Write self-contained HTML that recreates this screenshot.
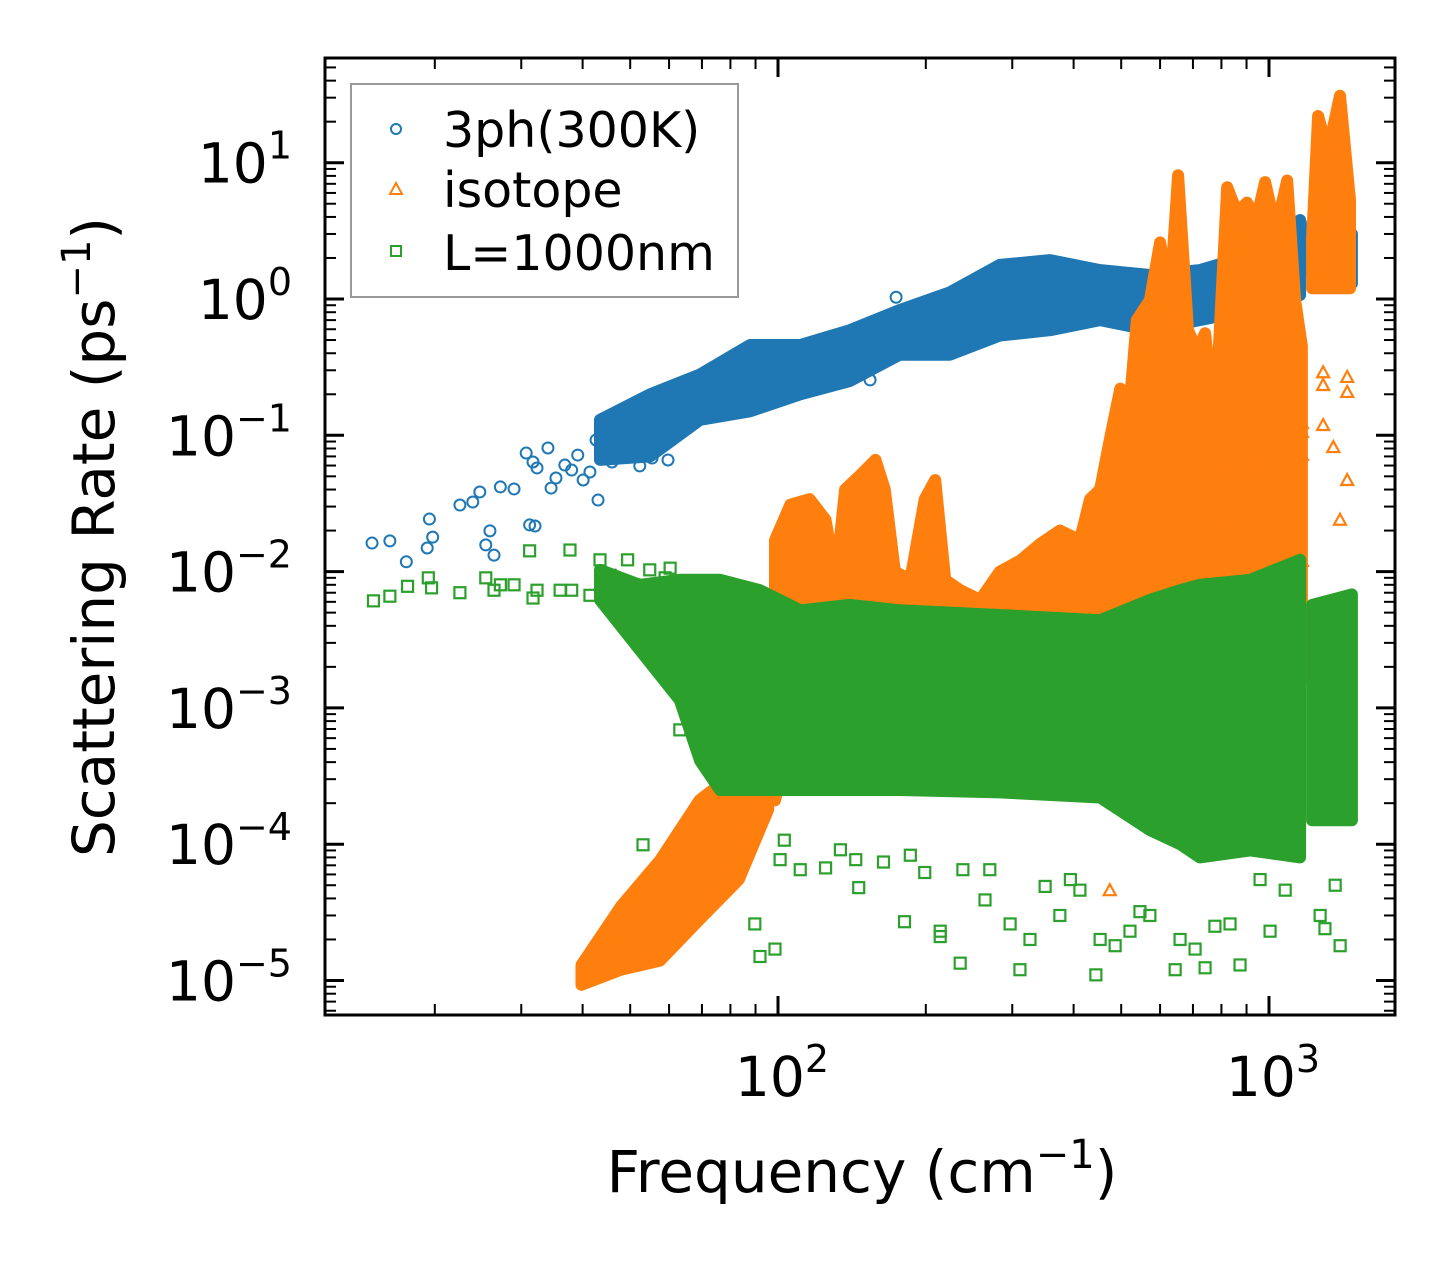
<!DOCTYPE html>
<html><head><meta charset="utf-8"><style>
html,body{margin:0;padding:0;background:#fff;}
svg text{font-family:"DejaVu Sans","Liberation Sans",sans-serif;fill:#000;}
</style></head><body>
<svg id="chart" width="1455" height="1265" viewBox="0 0 1455 1265" xmlns="http://www.w3.org/2000/svg">
<rect width="1455" height="1265" fill="#fff"/>
<g id="marks"></g>
<g id="axes"></g>
<g id="legend">
 <rect x="351" y="84" width="387" height="213" fill="#fff" stroke="#999" stroke-width="2"/>
 <circle cx="396" cy="129" r="5" fill="none" stroke="#1f77b4" stroke-width="2"/>
 <text x="443" y="147" font-size="49">3ph(300K)</text>
 <polygon points="396,183 402,194 390,194" fill="none" stroke="#ff7f0e" stroke-width="2"/>
 <text x="443" y="207" font-size="49">isotope</text>
 <rect x="391" y="246" width="10" height="10" fill="none" stroke="#2ca02c" stroke-width="2"/>
 <text x="443" y="270" font-size="49">L=1000nm</text>
</g>
<text x="862" y="1192" font-size="58" text-anchor="middle">Frequency (cm<tspan dy="-24" font-size="40">−1</tspan><tspan dy="24">)</tspan></text>
<text transform="translate(114,537) rotate(-90)" font-size="58" text-anchor="middle">Scattering Rate (ps<tspan dy="-24" font-size="40">−1</tspan><tspan dy="24">)</tspan></text>
</svg>
<script>
// ---- data (frequency in cm^-1, rate in ps^-1) ----
const phF  = [14.9,16.2,17.5,19.5,19.8,19.3,22.5,23.9,24.7,25.4,25.9,26.4,27.2,29.0,30.7,31.2,32.0,31.7,32.3,34.0,34.5,35.3,36.8,38.0,39.1,40.1,41.4,42.6,43.0,44.4,45.9,47.7,48.5,49.4,52.3,55.4,59.7,63.1,154,174];
const phR  = [0.0162,0.0168,0.0118,0.0243,0.0179,0.0149,0.0308,0.0324,0.0384,0.0157,0.0199,0.0132,0.0418,0.0404,0.0741,0.022,0.0216,0.0637,0.0576,0.0807,0.041,0.0486,0.0605,0.0556,0.0716,0.047,0.0538,0.0924,0.0335,0.085,0.0637,0.0893,0.134,0.0972,0.0596,0.0681,0.0659,0.119,0.255,1.03];
const phBandF  = [43.4,54.9,69.4,87.7,111,140,177,224,283,358,453,572,723,915,1157];
const phBandHi = [0.13,0.2,0.28,0.46,0.46,0.59,0.83,1.12,1.78,1.93,1.63,1.5,1.63,2.1,3.8];
const phBandLo = [0.066,0.07,0.13,0.15,0.2,0.25,0.39,0.39,0.54,0.59,0.7,0.59,0.7,0.83,1.07];
const phBand2F  = [1224,1395,1475];
const phBand2Hi = [3.6,3.5,3.0];
const phBand2Lo = [1.45,1.3,1.3];

const isoBandAF  = [39.8,47.9,57.5,69.2,83.2,95.5];
const isoBandAHi = [1.3e-5,3.5e-5,7.6e-5,2.1e-4,3.5e-4,5.8e-4];
const isoBandALo = [9.3e-6,1.2e-5,1.4e-5,2.8e-5,5.5e-5,1.8e-4];
const isoBandBF  = [98.6,106,116,125,131,137,147,158,165,173,186,199,209,219,235,258,283,311,342,375,412,432,453,474,498,521,538,572,600,628,653,684,713,741,776,822,861,902,942,982,1033,1089,1130,1167];
const isoBandBHi = [0.017,0.031,0.034,0.024,0.0087,0.040,0.051,0.066,0.040,0.010,0.0087,0.034,0.047,0.0087,0.0073,0.0062,0.010,0.012,0.016,0.020,0.017,0.034,0.040,0.093,0.22,0.18,0.70,0.98,2.6,0.98,8.1,0.59,0.42,0.56,0.12,6.6,4.3,5.1,3.8,7.2,3.2,7.4,0.98,0.45];
const isoBandBLo = [2.1e-4,6e-4,1.1e-3,1.6e-3,1.6e-3,1.6e-3,1.6e-3,1.6e-3,1.6e-3,1.6e-3,1.6e-3,1.6e-3,1.6e-3,1.6e-3,1.6e-3,1.6e-3,1.6e-3,1.6e-3,1.6e-3,1.6e-3,1.6e-3,1.6e-3,1.6e-3,1.6e-3,1.6e-3,1.6e-3,1.6e-3,1.6e-3,1.6e-3,1.6e-3,1.6e-3,1.6e-3,1.6e-3,1.6e-3,1.6e-3,1.6e-3,1.6e-3,1.6e-3,1.6e-3,1.6e-3,1.6e-3,1.6e-3,1.6e-3,1.6e-3];
const isoBandCF  = [1224,1259,1318,1395,1462];
const isoBandCHi = [2.7,22,12,31,5.3];
const isoBandCLo = [1.2,1.2,1.2,1.2,1.2];
const isoF = [1151,1151,1151,1167,1167,1167,1289,1289,1289,1352,1443,1443,1443,968,968,822,628,622,813,1052,1395,474,1167];
const isoR = [0.32,0.25,0.20,0.123,0.106,0.072,0.29,0.234,0.119,0.082,0.268,0.208,0.047,0.074,0.064,0.063,0.047,0.041,0.024,0.034,0.024,4.6e-5,0.012];

const bdF = [15.0,16.2,17.6,19.4,19.7,22.5,25.4,26.4,27.2,29.0,31.2,31.7,32.3,36.0,37.7,38.0,41.4,43.4,45.5,49.4,54.8,58.9,60.3,
  53.1,63.1,89.7,91.9,98.6,101,103,111,125,134,144,146,164,181,186,199,214,214,235,238,264,270,297,311,326,350,375,394,412,444,453,486,521,546,572,644,659,707,741,776,833,873,959,1005,1079,1271,1300,1364,1396];
const bdR = [0.0061,0.0066,0.0078,0.0090,0.0076,0.0070,0.0090,0.0073,0.0080,0.0080,0.0142,0.0064,0.0073,0.0073,0.0144,0.0073,0.0067,0.0122,0.0094,0.0122,0.0103,0.0090,0.0106,
  9.9e-5,6.9e-4,2.6e-5,1.5e-5,1.7e-5,7.7e-5,1.07e-4,6.5e-5,6.7e-5,9.1e-5,7.7e-5,4.8e-5,7.4e-5,2.7e-5,8.3e-5,6.2e-5,2.3e-5,2.1e-5,1.34e-5,6.5e-5,3.9e-5,6.5e-5,2.6e-5,1.2e-5,2.0e-5,4.9e-5,3.0e-5,5.5e-5,4.6e-5,1.1e-5,2.0e-5,1.8e-5,2.3e-5,3.2e-5,3.0e-5,1.2e-5,2.0e-5,1.7e-5,1.24e-5,2.5e-5,2.6e-5,1.3e-5,5.5e-5,2.3e-5,4.6e-5,3.0e-5,2.4e-5,5.0e-5,1.8e-5];
const bdBandF  = [43.4,52.3,63.1,69.4,76.2,91.9,111,140,177,283,453,572,659,723,915,1157];
const bdBandHi = [0.0103,0.0080,0.0087,0.0087,0.0087,0.0073,0.0052,0.0057,0.0052,0.0048,0.0044,0.0062,0.0073,0.0080,0.0087,0.0122];
const bdBandLo = [0.0062,0.00266,0.00114,4.1e-4,2.5e-4,2.5e-4,2.5e-4,2.5e-4,2.5e-4,2.4e-4,2.2e-4,1.27e-4,1.0e-4,8e-5,9e-5,8e-5];
const bdBand2F  = [1224,1475];
const bdBand2Hi = [0.0057,0.0068];
const bdBand2Lo = [1.5e-4,1.5e-4];

const xTickVals = [100,1000];
const xTickExp = ["2","3"];
const yTickVals = [10,1,0.1,0.01,0.001,1e-4,1e-5];
const yTickExp = ["1","0","−1","−2","−3","−4","−5"];

// ---- axes ----
const L=325,R=1395,T=58,B=1015;
const X2=778, XDEC=491, Y0=299, YDEC=136.3;
function sx(f){return X2+(Math.log10(f)-2)*XDEC;}
function sy(v){return Y0-Math.log10(v)*YDEC;}
const NS="http://www.w3.org/2000/svg";
function mk(tag,attrs,parent){const e=document.createElementNS(NS,tag);for(const k in attrs)e.setAttribute(k,attrs[k]);parent.appendChild(e);return e;}
const marks=document.getElementById('marks');
const axes=document.getElementById('axes');

function band(F,Hi,Lo,color,name){
  let pts=[];
  for(let i=0;i<F.length;i++)pts.push(sx(F[i]).toFixed(1)+','+sy(Hi[i]).toFixed(1));
  for(let i=F.length-1;i>=0;i--)pts.push(sx(F[i]).toFixed(1)+','+sy(Lo[i]).toFixed(1));
  const p=mk('polygon',{points:pts.join(' '),fill:color,stroke:color,'stroke-width':12,'stroke-linejoin':'round'},marks);
  
  
}
function circles(F,V,name){
  for(let i=0;i<F.length;i++){
    const c=mk('circle',{cx:sx(F[i]),cy:sy(V[i]),r:5.5,fill:'none',stroke:'#1f77b4','stroke-width':2},marks);
    
    
  }
}
function tris(F,V,name){
  for(let i=0;i<F.length;i++){
    const x=sx(F[i]),y=sy(V[i]);
    const t=mk('polygon',{points:`${x},${y-6} ${x+6},${y+5} ${x-6},${y+5}`,fill:'none',stroke:'#ff7f0e','stroke-width':2.2},marks);
    
    
  }
}
function squares(F,V,name){
  for(let i=0;i<F.length;i++){
    const s=mk('rect',{x:sx(F[i])-5.5,y:sy(V[i])-5.5,width:11,height:11,fill:'none',stroke:'#2ca02c','stroke-width':2.2},marks);
    
    
  }
}
band(phBandF,phBandHi,phBandLo,'#1f77b4','3ph-band');
band(phBand2F,phBand2Hi,phBand2Lo,'#1f77b4','3ph-band-high');
circles(phF,phR,'3ph-point');
band(isoBandAF,isoBandAHi,isoBandALo,'#ff7f0e','isotope-band-low');
band(isoBandBF,isoBandBHi,isoBandBLo,'#ff7f0e','isotope-band-mid');
band(isoBandCF,isoBandCHi,isoBandCLo,'#ff7f0e','isotope-band-high');
tris(isoF,isoR,'isotope-point');
band(bdBandF,bdBandHi,bdBandLo,'#2ca02c','boundary-band');
band(bdBand2F,bdBand2Hi,bdBand2Lo,'#2ca02c','boundary-band-high');
squares(bdF,bdR,'boundary-point');

const defs=mk('defs',{},document.getElementById('chart'));
const cp=mk('clipPath',{id:'pc'},defs);
mk('rect',{x:L,y:T,width:R-L,height:B-T},cp);
marks.setAttribute('clip-path','url(#pc)');

const frame=mk('rect',{x:L,y:T,width:R-L,height:B-T,fill:'none',stroke:'#000','stroke-width':3},axes);



for(let d=1;d<=3;d++){
  for(let m=1;m<=9;m++){
    const f=m*Math.pow(10,d);const x=sx(f);
    if(x<L+2||x>R-2)continue;
    const len=m===1?19:11,w=m===1?3:2;
    mk('line',{x1:x,y1:B,x2:x,y2:B-len,stroke:'#000','stroke-width':w},axes);
    mk('line',{x1:x,y1:T,x2:x,y2:T+len,stroke:'#000','stroke-width':w},axes);
  }
}
for(let i=0;i<xTickVals.length;i++){
  const t=mk('text',{x:sx(xTickVals[i])+4,y:1096,'font-size':55,'text-anchor':'middle'},axes);
  t.textContent='10';
  const s=mk('tspan',{dy:-24,'font-size':38},t);s.textContent=xTickExp[i];
  
  
}
for(let d=-6;d<=1;d++){
  for(let m=1;m<=9;m++){
    const v=m*Math.pow(10,d);const y=sy(v);
    if(y<T+2||y>B-2)continue;
    const len=m===1?19:11,w=m===1?3:2;
    mk('line',{x1:L,y1:y,x2:L+len,y2:y,stroke:'#000','stroke-width':w},axes);
    mk('line',{x1:R,y1:y,x2:R-len,y2:y,stroke:'#000','stroke-width':w},axes);
  }
}
for(let i=0;i<yTickVals.length;i++){
  const y=sy(yTickVals[i]);
  const t=mk('text',{x:292,y:y+20,'font-size':55,'text-anchor':'end'},axes);
  t.textContent='10';
  const s=mk('tspan',{dy:-24,'font-size':38},t);s.textContent=yTickExp[i];
  
  
}
</script>
</body></html>
